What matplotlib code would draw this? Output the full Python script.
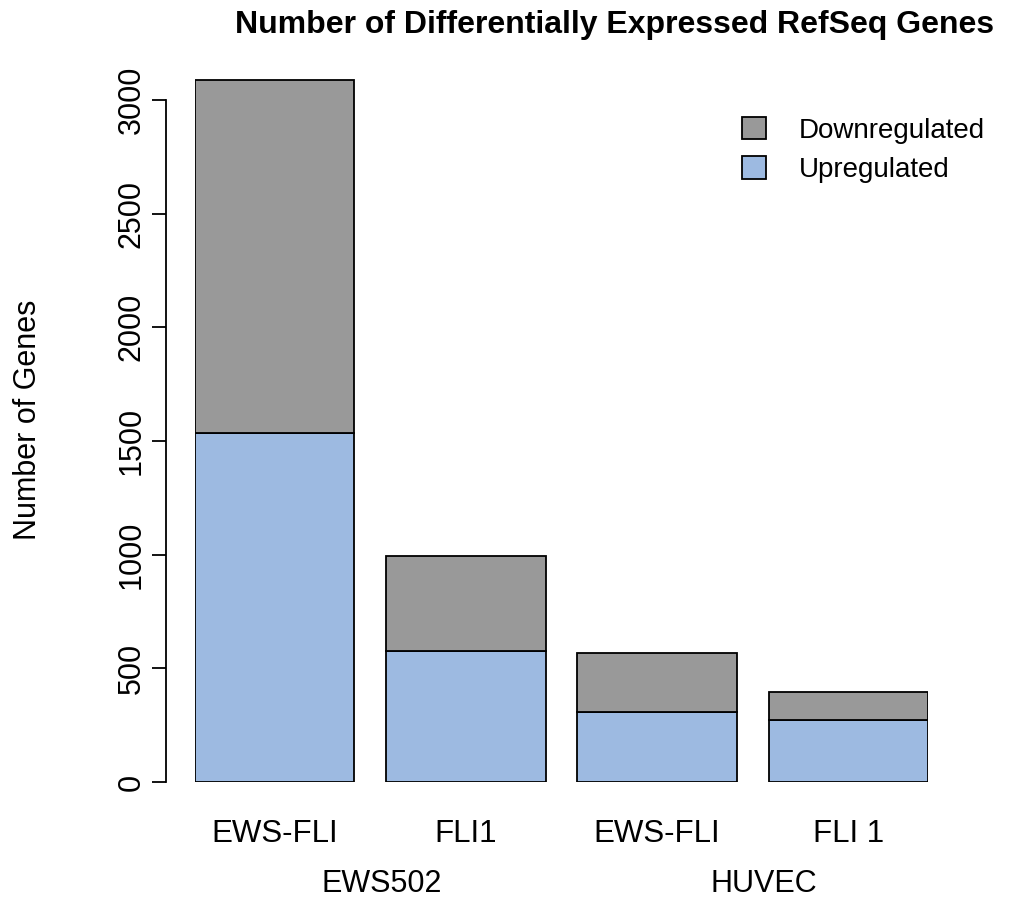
import matplotlib
matplotlib.use("Agg")
import matplotlib.pyplot as plt
import numpy as np

plt.rcParams['font.family'] = ['Liberation Sans', 'DejaVu Sans']

categories = ["EWS-FLI", "FLI1", "EWS-FLI", "FLI 1"]
groups = ["EWS502", "HUVEC"]
upregulated = [1535, 576, 308, 273]
downregulated = [1553, 418, 259, 123]
yticks = [0, 500, 1000, 1500, 2000, 2500, 3000]

col_up = "#9DBAE1"
col_down = "#999999"

W, H = 1015, 902
fig = plt.figure(figsize=(W / 100, H / 100), dpi=100)
px = 782 - 100
scale = px / 3000.0
ymax = 3200
top_px = 782 - ymax * scale
ax = fig.add_axes([195 / W, (H - 782) / H, 733 / W, (782 - top_px) / H])

x = 0.7 + 1.2 * np.arange(len(categories))
ax.bar(x, upregulated, width=1.0, color=col_up, edgecolor="black", linewidth=1.3, label="Upregulated")
ax.bar(x, downregulated, width=1.0, bottom=upregulated, color=col_down, edgecolor="black", linewidth=1.3, label="Downregulated")
ax.set_xlim(0.2, 4.8)
ax.set_ylim(0, ymax)

for s in ["top", "right", "bottom"]:
    ax.spines[s].set_visible(False)
ax.spines["left"].set_bounds(0, 3000)
ax.spines["left"].set_position(("outward", (195 - 166) * 0.72))
ax.spines["left"].set_linewidth(1.3)
ax.set_yticks(yticks)
ax.set_yticklabels([str(v) for v in yticks], rotation=90, va="center", fontsize=22)
ax.tick_params(axis="y", length=14 * 0.72, width=1.3, pad=4)
ax.set_xticks(x)
ax.set_xticklabels(categories, fontsize=22.5)
ax.tick_params(axis="x", length=0, pad=27)

for i, g in enumerate(groups):
    gx = (x[2 * i] + x[2 * i + 1]) / 2 + 0.07
    fig.text(ax.transData.transform((gx, 0))[0] / W, 1 - 884 / H, g,
             ha="center", va="center", fontsize=22)

fig.text(28 / W, 1 - 420 / H, "Number of Genes", rotation=90, ha="center", va="center", fontsize=22)
fig.text(615 / W, 1 - 25 / H, "Number of Differentially Expressed RefSeq Genes",
         ha="center", va="center", fontsize=23, fontweight="bold")

handles, labels = ax.get_legend_handles_labels()
leg = ax.legend(handles[::-1], labels[::-1], loc="upper left", bbox_to_anchor=(720 / W, 1 - 95 / H),
                bbox_transform=fig.transFigure, frameon=False, fontsize=20,
                handlelength=0.85, handleheight=0.85, handletextpad=1.2, labelspacing=0.45,
                borderpad=0.3)

fig.savefig("out.png", dpi=100)
